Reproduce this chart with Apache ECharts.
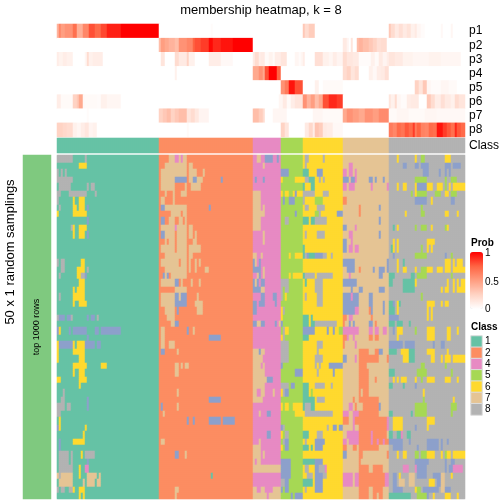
<!DOCTYPE html>
<html><head><meta charset="utf-8">
<style>html,body{margin:0;padding:0;background:#fff}#c{width:504px;height:504px}</style>
<script src="https://cdn.jsdelivr.net/npm/echarts@6/dist/echarts.min.js"></script>
</head><body><div id="c"></div>
<script>
const probLabels=['p1','p2','p3','p4','p5','p6','p7','p8'];
const legendClasses=['1','2','4','5','6','7','8'];
const classColors={1:'#66C2A5',2:'#FC8D62',3:'#8DA0CB',4:'#E78AC3',5:'#A6D854',6:'#FFD92F',7:'#E5C494',8:'#B3B3B3'};
const probRamp=['#FFFFFF','#FFD3C4','#FF9E81','#FF6443','#FF0000'];
const classRuns=[[1,51],[2,47],[4,14],[5,11],[6,20],[7,23],[8,38]];
// membership probabilities as flat pairs: end column (exclusive), value
const p1=[1,.4,2,.6,4,.5,8,.55,10,.7,13,.42,16,.6,19,.8,22,.72,25,.82,32,.92,51,1,77,0,78,.02,123,0,124,.3,126,.2,129,.28,166,0,167,.3,169,.2,171,.12,173,.18,175,.12,177,.16,179,.08,180,.12,182,.05,184,.02,192,0,193,.04,197,0,198,.05,204,0];
const p2=[51,0,52,.35,54,.5,56,.45,59,.4,61,.35,65,.55,68,.6,69,.75,72,.8,76,.85,78,.98,82,.9,88,.95,98,1,143,0,145,.12,146,.06,147,0,148,.15,150,0,151,.35,153,.4,156,.35,158,.3,160,.25,162,.18,165,.2,204,0];
const p3=[1,.1,3,.07,5,.1,8,.08,14,0,15,.05,16,.2,18,.08,23,.1,52,0,54,.15,59,0,61,.2,65,.12,66,.25,69,.08,76,0,82,.1,88,.04,98,0,99,.12,101,.2,102,.1,104,.12,106,.03,108,.07,109,.03,112,.1,115,.15,119,0,121,.05,122,.02,123,.05,124,.1,129,0,133,.18,136,.08,138,.05,140,.1,143,.06,145,.2,148,.14,151,.12,157,.02,159,.08,161,.03,163,.12,165,.06,166,.1,169,.15,173,.12,178,.07,186,.05,192,.07,202,.05,204,0];
const p4=[59,0,60,.08,98,0,99,.45,101,.45,103,.55,104,.45,106,.8,110,1,112,.75,143,0,145,.2,147,.25,149,.15,151,.2,156,0,158,.08,160,.04,162,.1,164,.12,166,.18,204,0];
const p5=[112,0,114,.55,116,.65,119,.95,123,.8,129,0,131,.08,133,0,143,.03,179,0,181,.25,183,.15,185,.3,187,.05,192,.02,196,.05,200,.03,204,0];
const p6=[1,.1,2,.1,8,.03,10,.25,11,.3,13,.45,14,.04,20,.03,22,.02,25,.08,32,.05,111,0,113,.05,115,.12,117,.03,119,.1,123,.15,125,.55,127,.4,129,.5,131,.35,133,.45,136,.8,140,.9,143,.85,166,0,167,.15,169,.08,170,.2,172,.05,175,.02,177,.1,181,.12,185,0,187,.3,189,.2,192,.1,194,.18,197,.12,199,.08,201,.2,204,.15];
const p7=[15,0,16,.02,51,0,53,.25,55,.3,57,.35,59,.25,61,.3,65,.35,67,.15,69,.2,71,.13,76,.06,98,0,101,.35,103,.28,104,.2,108,0,115,.05,128,0,133,.05,143,.03,145,.45,148,.55,151,.5,154,.45,158,.55,161,.5,166,.58,170,.03,176,.05,184,.03,190,.05,204,.04];
const p8=[3,.25,5,.22,8,.2,10,.08,12,.05,14,.1,16,.14,18,.06,20,.08,65,0,66,.03,112,0,114,.25,116,.15,124,0,126,.12,128,.22,129,.1,131,.32,133,.28,135,.12,138,.1,143,.04,166,0,168,.65,170,.6,172,.72,174,.68,176,.78,178,.72,179,.85,180,.65,182,.75,184,.62,186,.6,188,.72,190,.7,193,.95,195,.85,197,.78,199,.7,200,.9,202,.78,204,.72];
// main matrix, rows 0-49: exceptions to the column's class as flat triples: class, start column, end column
const rowExceptions=[
[8,0,8,8,14,15,7,56,59,4,59,61,7,61,62,4,62,63,7,63,65,7,100,102,3,104,108,3,110,111,8,124,126,8,133,134,6,170,171,6,179,180,5,182,184,6,194,197],
[6,11,14,6,14,15,7,54,65,7,66,68,7,103,104,8,124,125,4,146,148,3,173,175,3,179,181,3,182,186,3,194,197,3,198,202],
[8,0,1,8,2,3,8,4,5,7,52,65,7,66,70,7,73,74,3,112,116,1,123,126,3,130,133,4,143,145,4,146,148,4,149,150,3,183,186,3,191,192,3,194,195,3,196,197],
[8,0,8,7,52,59,3,59,65,7,66,68,3,68,70,7,70,73,3,82,83,3,99,100,3,103,104,6,112,113,6,119,123,8,124,126,1,126,129,8,131,132,8,133,134,3,143,146,3,147,149,4,149,150,3,156,158,3,159,160,3,163,164,5,179,185,5,194,195,5,197,200],
[8,1,7,8,15,16,8,17,19,7,52,59,7,64,65,7,67,72,1,123,124,1,127,129,4,143,145,4,146,149,4,157,158,4,165,166,6,170,171,6,173,175,6,179,180,3,180,185,6,185,188,6,190,193,5,194,195,6,196,197,6,198,204],
[8,0,2,8,6,15,8,19,20,7,54,55,7,58,59,7,62,65,7,98,102,6,112,113,6,114,116,6,118,119,3,119,120,6,120,123,8,123,129,8,133,136,5,177,178,6,179,180,5,180,185,5,189,192,6,194,196,5,197,200],
[8,0,1,6,8,9,6,11,14,7,52,54,7,58,59,7,98,102,3,113,114,3,116,119,8,123,124,5,129,133,2,143,145,3,179,185,6,187,188,3,197,199],
[8,1,2,6,8,10,6,11,14,3,15,16,3,52,54,7,54,65,3,76,77,7,98,102,7,103,104,8,124,126,8,130,134,2,151,152,3,161,162,5,182,183],
[6,0,1,6,8,14,6,14,15,7,57,62,7,63,65,7,98,104,3,119,120,5,129,131,8,131,132,3,140,143,2,151,152,6,174,175,5,182,184,6,194,196,6,200,201],
[3,15,16,3,52,54,7,56,59,7,61,63,7,64,65,7,98,102,8,114,116,1,123,126,1,127,129,8,129,135,3,161,162],
[8,7,8,6,8,9,6,11,14,6,14,15,7,52,59,4,59,60,7,60,65,7,66,68,7,98,102,3,143,145,4,149,150,1,168,169,6,170,171,5,179,180,5,182,185,6,187,188,5,194,195,6,195,196],
[6,8,9,6,11,14,3,15,16,3,52,54,7,54,59,7,60,65,7,66,68,7,69,70,7,103,104,8,124,125,8,130,134,4,146,148,3,161,162],
[7,54,55,7,56,59,7,60,65,7,68,70,7,103,104,3,143,145,4,147,148,6,168,169,6,170,171,6,185,189],
[7,52,59,7,60,65,7,66,72,1,123,124,3,143,145,4,146,148,4,149,151,1,167,168,6,168,169,6,170,171,5,182,183,6,185,186,6,187,188],
[7,54,65,7,66,68,7,98,100,7,102,103,6,116,117,6,119,123,1,123,124,8,124,125,3,125,126,1,126,129,3,129,133,8,133,135,8,137,138,3,168,169,5,179,185,3,194,195,5,197,198],
[8,0,1,8,2,4,6,12,14,7,52,61,7,62,65,7,66,67,7,69,70,7,71,72,3,98,99,7,99,100,3,101,102,3,143,149,3,165,166,6,170,171,1,173,174,6,194,197,6,198,199,6,200,203],
[8,2,4,6,10,14,8,15,16,7,54,65,7,66,67,7,69,70,7,74,76,3,98,102,7,103,104,3,145,149,2,151,152,3,158,159,3,161,164,3,165,166,6,170,171,6,173,175,6,179,180,5,182,185,6,185,188,6,190,193,6,194,197,6,198,204],
[8,1,2,6,10,12,8,12,14,3,14,15,3,53,54,7,54,55,3,55,56,7,57,65,7,100,101,3,101,102,7,103,104,6,116,117,6,118,123,1,123,124,8,124,129,8,130,138,4,146,147,3,161,163,1,166,169,1,177,179,5,180,185,5,197,198],
[6,11,14,7,52,59,3,59,61,7,62,63,7,67,68,7,71,72,3,98,99,7,99,100,3,100,101,3,102,104,8,112,116,1,124,125,8,129,133,3,143,150,1,166,168,1,173,179,6,179,180,6,195,196,6,198,199,6,200,201,6,202,204],
[6,8,9,6,10,14,7,59,65,3,98,102,7,102,104,8,112,113,8,114,116,8,129,133,3,147,148,3,151,153,3,161,164,1,173,179,6,192,193,6,194,196,6,198,199,6,200,204],
[8,1,2,6,8,14,7,52,59,3,59,61,7,61,62,3,62,65,7,70,71,3,102,104,3,108,110,8,112,113,6,114,115,8,124,125,8,130,133,3,143,147,4,147,148,3,148,151,3,156,158,5,182,183],
[6,8,9,6,11,14,6,14,15,7,52,59,3,59,65,7,69,73,3,98,100,3,101,104,3,109,110,8,130,133,3,143,151,3,156,158,3,163,164,1,166,168,3,168,169,6,170,171,1,171,172,6,185,189,6,192,193,6,194,196],
[7,54,59,3,60,61,7,70,73,3,98,100,6,112,113,8,113,114,3,143,149,4,149,151,2,156,157,3,157,158,3,163,164,1,166,169,6,170,171,6,185,186,6,187,188],
[8,0,1,3,1,4,3,5,7,8,7,8,3,15,16,3,17,19,8,20,21,7,55,59,6,112,113,1,123,126,1,127,128,2,143,145,4,146,148,2,157,158,3,166,171,6,185,186,6,187,188],
[7,57,59,3,59,61,3,98,100,7,100,102,3,102,104,3,109,110,7,111,112,3,112,113,1,123,126,1,127,129,8,129,140,2,143,144,3,146,147,3,148,149,3,156,158,2,159,160,1,166,169,1,170,173,1,176,177],
[3,0,1,6,1,2,3,6,7,3,8,15,3,19,21,3,22,32,7,52,54,3,65,66,7,68,69,8,113,114,6,114,116,3,123,129,3,135,136,3,138,139,5,141,143,4,143,151,4,156,158,4,159,161,4,163,165,3,168,169,6,170,173,5,179,180,6,185,189,6,195,197,6,200,201],
[3,15,16,7,52,54,3,76,82,6,112,113,8,113,114,1,123,126,2,143,145,4,145,146,4,148,149,2,156,158,2,159,161,6,170,171,6,185,189,6,195,197],
[6,0,1,3,1,8,6,8,9,6,10,14,3,14,15,3,15,19,3,20,22,7,52,54,7,56,59,8,112,116,8,130,133,2,143,144,4,149,150,3,166,173,3,174,179,3,188,189,3,192,194],
[6,0,1,6,8,14,3,52,54,7,60,61,7,98,101,3,101,102,7,102,104,8,112,116,8,130,131,2,151,156,2,159,161,3,161,163,1,166,170,6,172,176,1,176,179,6,185,189,6,195,196],
[6,0,1,6,11,14,7,98,103,8,112,116,8,129,133,3,143,145,4,149,150,2,151,161,2,165,166,6,173,176,1,176,179,6,187,189,6,192,193,6,194,197,6,198,204],
[6,8,14,6,14,15,6,22,25,7,59,61,7,62,63,7,64,66,7,98,102,7,103,104,3,112,113,8,129,130,8,131,132,3,136,143,2,151,155,5,182,184,5,194,195],
[6,8,9,6,11,14,7,59,61,7,98,104,3,119,123,8,130,131,3,138,139,2,151,156,1,166,169,5,180,185,5,197,198],
[6,0,2,6,11,15,7,98,105,3,105,108,2,151,156,2,159,160,6,168,169,6,170,171,6,172,175,6,179,180,5,182,183,6,185,189,6,194,197,6,200,201],
[6,11,12,7,98,104,8,112,116,3,117,119,1,123,126,8,129,134,8,137,138,2,151,156,1,166,168,1,173,174,3,179,180],
[8,3,4,7,60,61,7,98,100,7,102,104,7,108,109,6,112,113,8,113,114,3,114,116,1,123,126,5,127,128,2,151,152,2,153,156,6,183,184],
[8,2,4,3,15,16,3,76,82,7,98,103,1,123,129,8,130,134,2,148,149,2,151,161,5,183,184,6,198,199],
[8,0,4,8,5,7,3,15,16,3,52,53,7,60,61,6,112,113,6,114,116,6,118,123,1,123,124,8,124,127,1,127,129,4,146,148,2,149,150,2,153,161,3,161,162,5,179,185,5,197,200],
[8,0,2,7,53,54,7,101,102,3,105,107,6,119,123,8,124,138,4,143,146,4,148,151,2,151,161,1,166,168,1,177,178,5,179,185,5,197,198],
[6,1,2,3,65,66,3,68,69,3,76,82,3,83,89,2,143,146,4,148,149,2,149,165,4,165,166,6,168,173,6,185,189],
[3,0,1,6,1,2,6,14,15,3,112,113,8,113,114,8,135,136,3,138,140,3,141,143,4,148,149,2,151,165,4,165,166,6,168,173,3,179,180,6,185,186],
[6,13,14,3,105,107,6,112,113,8,114,116,1,123,126,8,130,133,4,145,151,2,151,157,4,157,158,2,158,165,1,166,168,1,170,172,4,172,173,1,175,177],
[3,1,2,6,8,14,7,52,54,7,101,102,8,113,114,3,114,116,8,124,125,3,129,134,4,143,145,4,146,151,2,151,157,4,157,158,2,158,160,4,160,161,2,161,163,4,163,164,2,164,166,3,166,173,3,176,177,3,185,191,3,192,193,3,195,196],
[3,1,2,7,98,102,6,112,113,3,114,116,1,123,126,1,127,128,3,129,133,2,143,145,2,148,150,2,151,161,3,168,173,3,180,181,3,185,191,3,192,193],
[8,1,6,8,7,8,6,12,13,8,14,19,3,59,61,7,64,65,7,98,102,7,103,104,3,143,145,2,151,153,2,165,166,6,170,171,6,173,175,5,179,181,5,182,185,6,185,189,6,192,193,5,194,195,6,195,197,6,198,204],
[8,1,6,8,7,8,3,15,16,7,98,99,7,100,102,3,112,117,1,123,129,3,129,133,2,151,152,3,179,186,3,194,195,3,197,199],
[8,1,8,6,11,12,4,14,16,7,98,112,3,112,117,8,124,126,3,129,131,8,131,134,4,134,135,2,151,156,2,158,163,4,173,176,4,179,180,3,180,185,3,194,195,3,196,198,4,198,203],
[7,0,1,8,1,2,7,2,8,6,11,12,7,15,20,7,21,22,1,77,78,3,112,117,8,125,128,3,129,133,8,133,135,4,143,148,4,149,151,2,151,164,4,164,166,3,168,170,6,171,172,7,176,179,3,180,185,3,188,192,7,192,194,6,197,198],
[7,1,8,7,13,14,7,15,19,7,20,22,8,112,114,3,114,116,1,123,128,3,129,133,4,143,148,4,149,151,2,151,164,4,164,166,3,168,170,7,171,174,7,176,179,6,186,189,3,190,192,7,192,194],
[8,0,1,8,2,4,8,6,8,6,8,9,6,11,14,7,59,61,7,98,100,7,102,104,7,108,112,3,112,113,3,114,116,8,124,125,3,129,133,2,151,156,2,158,163,3,168,173,6,179,180,5,180,182,3,183,191,7,192,194,3,194,197],
[6,11,12,6,13,14,7,59,60,7,98,105,7,106,112,3,117,118,3,119,123,2,151,156,2,158,160,2,161,163,1,166,177,5,180,185,3,185,186,6,188,189,6,194,197,6,200,201]
];

const colClass=[];
classRuns.forEach(([c,n])=>{for(let i=0;i<n;i++)colClass.push(c);});
const R=rowExceptions.length;
const SUB=172; // each matrix row spans a whole number of 2px scale bands, which keeps cell edges crisp
const colCats=colClass.map((_,i)=>String(i));
const subCats=Array.from({length:SUB},(_,i)=>String(i));

const probRows=[p1,p2,p3,p4,p5,p6,p7,p8];
const probData=[];
probRows.forEach((runs,r)=>{
  let s=0;
  for(let k=0;k<runs.length;k+=2){
    for(let c=s;c<runs[k];c++)probData.push([c,r,runs[k+1]]);
    s=runs[k];
  }
});
const classData=colClass.map((c,i)=>[i,0,c]);
const matrix=rowExceptions.map(ex=>{
  const row=colClass.slice();
  for(let k=0;k<ex.length;k+=3)for(let c=ex[k+1];c<ex[k+2];c++)row[c]=ex[k];
  return row;
});
const mainData=[];
for(let s=0;s<SUB;s++){
  const row=matrix[Math.min(R-1,Math.floor(s*R/SUB))];
  row.forEach((v,c)=>mainData.push([c,s,v]));
}
const legendData=legendClasses.map((c,i)=>[0,i,+c]);

const FONT='"Liberation Sans",Arial,sans-serif';
const hm=(x,y,data,extra)=>Object.assign({type:'heatmap',xAxisIndex:x,yAxisIndex:y,data,progressive:0,animation:false,silent:true,emphasis:{disabled:true},itemStyle:{borderWidth:0}},extra||{});
const hx=(g,data)=>({type:'category',gridIndex:g,data,show:false,axisTick:{show:false},axisLine:{show:false},splitLine:{show:false}});
const hy=(g,data,lab,fs,pad)=>({type:'category',gridIndex:g,data,inverse:true,position:'right',axisTick:{show:false},axisLine:{show:false},splitLine:{show:false},
  axisLabel:lab?{show:true,color:'#000',fontFamily:FONT,fontSize:fs,margin:lab,interval:0,padding:pad||0}:{show:false}});
const txt=(x,y,t,fs,w)=>({type:'text',x,y,silent:true,style:{text:t,fontSize:fs,fontFamily:FONT,fontWeight:w||'normal',fill:'#000',textAlign:'left',textVerticalAlign:'middle'}});
const tick=(x1,x2,y)=>({type:'line',silent:true,shape:{x1,y1:y,x2,y2:y},style:{stroke:'#fff',lineWidth:1}});

const chart=echarts.init(document.getElementById('c'),null,{renderer:'canvas'});
chart.setOption({
  backgroundColor:'#fff',animation:false,
  title:{text:'membership heatmap, k = 8',left:256,top:-1,textAlign:'center',textStyle:{fontSize:13,fontWeight:'normal',fontFamily:FONT,color:'#000'}},
  grid:[
    {left:57,top:24,width:408,height:113},
    {left:57,top:138,width:408,height:15},
    {left:57,top:155,width:408,height:344},
    {left:23,top:155,width:28,height:344},
    {left:471,top:336,width:11,height:79}
  ],
  xAxis:[hx(0,colCats),hx(1,colCats),hx(2,colCats),hx(3,['a']),hx(4,['a'])],
  yAxis:[hy(0,probLabels,4,12,[2,0,0,0]),hy(1,['Class'],4,12),hy(2,subCats),hy(3,['a']),hy(4,legendClasses,3,10)],
  visualMap:[
    {type:'continuous',seriesIndex:0,dimension:2,min:0,max:1,show:true,left:470,top:252,itemWidth:13,itemHeight:57,padding:0,text:null,calculable:false,hoverLink:false,inRange:{color:probRamp}},
    {type:'piecewise',seriesIndex:[1,2,4],dimension:2,show:false,pieces:Object.keys(classColors).map(k=>({value:+k,color:classColors[k]}))}
  ],
  series:[
    hm(0,0,probData),
    hm(1,1,classData),
    hm(2,2,mainData),
    hm(3,3,[[0,0,1]],{itemStyle:{color:'#7FC97F',borderWidth:0},label:{show:true,formatter:'top 1000 rows',rotate:90,color:'#000',fontSize:9,fontFamily:FONT}}),
    hm(4,4,legendData,{itemStyle:{borderWidth:1,borderColor:'#DDDDDD'}})
  ],
  graphic:[
    {type:'text',x:10,y:252,rotation:Math.PI/2,silent:true,style:{text:'50 x 1 random samplings',fontSize:13,fontFamily:FONT,fill:'#000',textAlign:'center',textVerticalAlign:'middle'}},
    txt(471,243,'Prob',10,'bold'),
    txt(485,253,'1',10),
    txt(485,282,'0.5',10),
    txt(485,309,'0',10),
    txt(471,327,'Class',10,'bold'),
    tick(470,473,254),tick(480,483,254),tick(470,473,281),tick(480,483,281)
  ]
});
</script></body></html>
